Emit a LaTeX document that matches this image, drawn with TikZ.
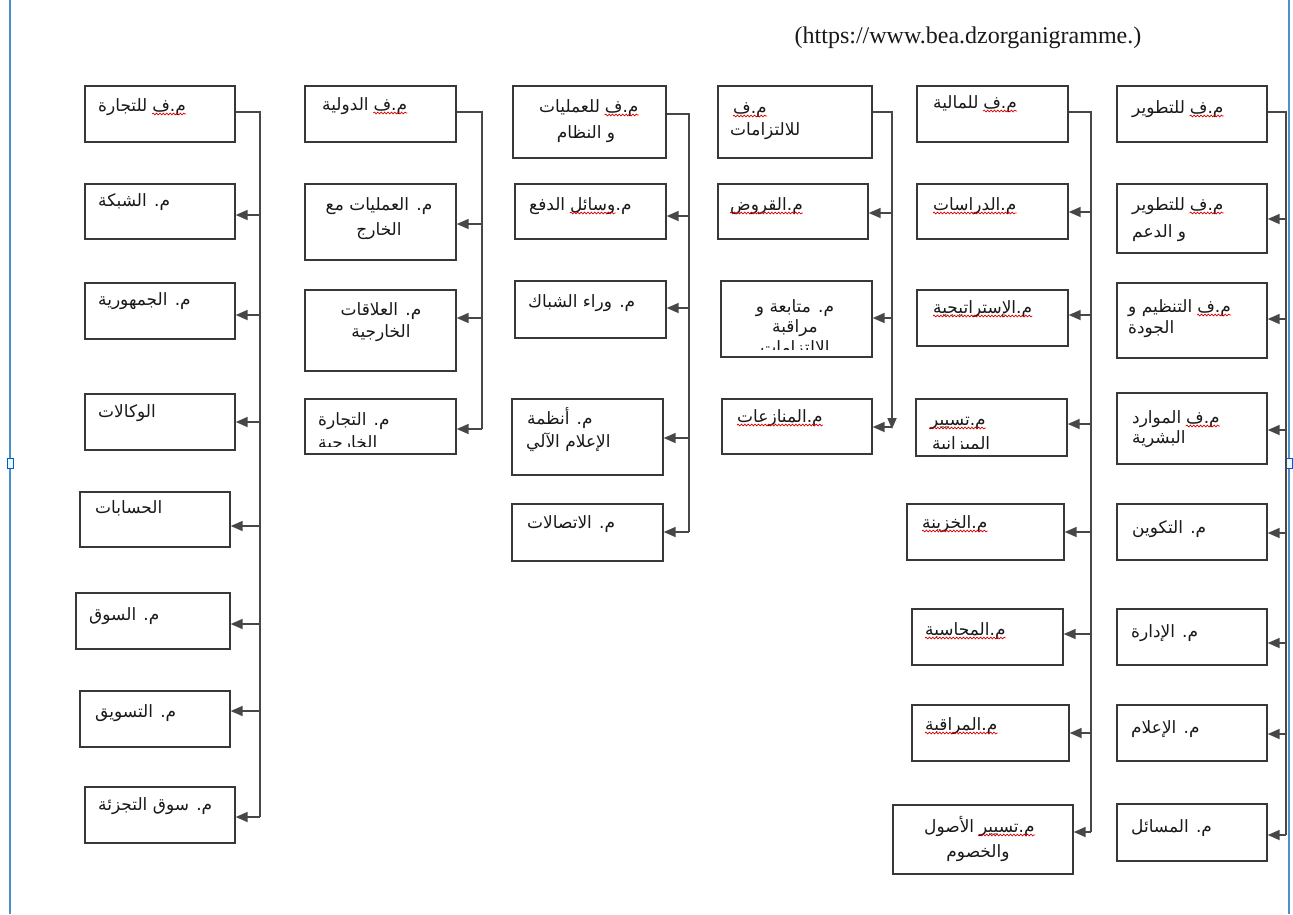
\documentclass[tikz,border=0pt]{standalone}
\usepackage{fontspec}
\setmainfont{Liberation Serif}
\newfontfamily\arabicfont[Script=Arabic]{DejaVu Sans}
\TeXXeTstate=1
\usetikzlibrary{arrows.meta,calc,decorations.pathmorphing}

\tikzset{
  box/.style={draw=black!78, line width=1.7pt, fill=white, inner sep=0pt, anchor=north west},
  conn/.style={draw=black!72, line width=1.7pt},
  arr/.style={conn, -{Triangle[length=12pt,width=10pt]}},
  ar/.style={font=\arabicfont\fontsize{17}{20}\selectfont, inner sep=0pt, text=black!90},
  squig/.style={draw=red!85!black, line width=0.7pt, decorate,
    decoration={snake, amplitude=0.9pt, segment length=3.4pt}},
  pageedge/.style={draw=blue!45!cyan!70!black, line width=1.2pt, opacity=0.7},
  handle/.style={draw=blue!55!cyan!80!black, fill=cyan!10, line width=0.8pt,
    minimum width=6pt, minimum height=10pt, inner sep=0pt},
}

% one line of text, left aligned at x / centred at x (baseline at y)
\newcommand\arleft[4]{\node[ar, anchor=base west] (#1) at (#2,#3) {#4};}
\newcommand\arcentre[4]{\node[ar, anchor=base] (#1) at (#2,#3) {#4};}
% red spell-check wave under a word node
\newcommand\wavy[1]{\draw[squig] ([yshift=-3pt]#1.base west) -- ([yshift=-3pt]#1.base east);}
% line whose leading (rightmost) word is wave-underlined
\newcommand\arlead[5]{\arleft{#1}{#2}{#3}{#4}%
  \node[ar, anchor=base west] (#1-w) at ([xshift=4.5pt]#1.base east) {#5};\wavy{#1-w}}
% single wave-underlined word
\newcommand\arwavy[4]{\arleft{#1}{#2}{#3}{#4}\wavy{#1}}
% arrow from a trunk at x=#2, height #3, into box #1
\newcommand\orgbranch[3]{\coordinate (#1-j) at (#2,#3);\draw[arr] (#1-j) -- (#1.east |- #1-j);}

\begin{document}
\begin{tikzpicture}[x=1pt,y=-1pt]
\useasboundingbox (0,0) rectangle (1293,914);
\fill[white] (0,0) rectangle (1293,914);

% page margins
\draw[pageedge] (10,0) -- (10,914);
\draw[pageedge] (1289,0) -- (1289,914);
\node[handle] (hl) at (10,463) {};
\node[handle] (hr) at (1289,463) {};

\node[font=\fontsize{24}{28}\selectfont, anchor=base, text=black!90] (src) at (968,43)
  {(https://www.bea.dzorganigramme.)};

% ---------------- column 1 ----------------
\node[box, minimum width=150pt, minimum height=56pt] (c1a) at (84,85) {};
\node[box, minimum width=150pt, minimum height=55pt] (c1b) at (84,183) {};
\node[box, minimum width=150pt, minimum height=56pt] (c1c) at (84,282) {};
\node[box, minimum width=150pt, minimum height=56pt] (c1d) at (84,393) {};
\node[box, minimum width=150pt, minimum height=55pt] (c1e) at (79,491) {};
\node[box, minimum width=154pt, minimum height=56pt] (c1f) at (75,592) {};
\node[box, minimum width=150pt, minimum height=56pt] (c1g) at (79,690) {};
\node[box, minimum width=150pt, minimum height=56pt] (c1h) at (84,786) {};
\arlead{c1a-t}{98}{111}{\beginR للتجارة\endR}{\beginR م.ف\endR}
\arleft{c1b-t}{98}{206}{\beginR م. الشبكة\endR}
\arleft{c1c-t}{98}{305}{\beginR م. الجمهورية\endR}
\arleft{c1d-t}{98}{417}{\beginR الوكالات\endR}
\arleft{c1e-t}{95}{513}{\beginR الحسابات\endR}
\arleft{c1f-t}{89}{620}{\beginR م. السوق\endR}
\arleft{c1g-t}{95}{717}{\beginR م. التسويق\endR}
\arleft{c1h-t}{98}{810}{\beginR م. سوق التجزئة\endR}
\coordinate (c1a-s) at (260,112);
\orgbranch{c1b}{260}{215}
\orgbranch{c1c}{260}{315}
\orgbranch{c1d}{260}{422}
\orgbranch{c1e}{260}{526}
\orgbranch{c1f}{260}{624}
\orgbranch{c1g}{260}{711}
\orgbranch{c1h}{260}{817}
\draw[conn] (c1a.east |- c1a-s) -- (c1a-s) -- (c1h-j);

% ---------------- column 2 ----------------
\node[box, minimum width=151pt, minimum height=56pt] (c2a) at (304,85) {};
\node[box, minimum width=151pt, minimum height=76pt] (c2b) at (304,183) {};
\node[box, minimum width=151pt, minimum height=81pt] (c2c) at (304,289) {};
\node[box, minimum width=151pt, minimum height=55pt] (c2d) at (304,398) {};
\arlead{c2a-t}{322}{110}{\beginR الدولية\endR}{\beginR م.ف\endR}
\arcentre{c2b-t1}{379}{210}{\beginR م. العمليات مع\endR}
\arcentre{c2b-t2}{379}{235}{\beginR الخارج\endR}
\arcentre{c2c-t1}{381}{315}{\beginR م. العلاقات\endR}
\arcentre{c2c-t2}{381}{337}{\beginR الخارجية\endR}
\begin{scope}
  \clip (c2d.north west) rectangle ([yshift=8pt]c2d.south east);
  \arleft{c2d-t1}{318}{425}{\beginR م. التجارة\endR}
  \arleft{c2d-t2}{318}{448}{\beginR الخارجية\endR}
\end{scope}
\coordinate (c2a-s) at (482,112);
\orgbranch{c2b}{482}{224}
\orgbranch{c2c}{482}{318}
\orgbranch{c2d}{482}{429}
\draw[conn] (c2a.east |- c2a-s) -- (c2a-s) -- (c2d-j);

% ---------------- column 3 ----------------
\node[box, minimum width=153pt, minimum height=72pt] (c3a) at (512,85) {};
\node[box, minimum width=151pt, minimum height=55pt] (c3b) at (514,183) {};
\node[box, minimum width=151pt, minimum height=57pt] (c3c) at (514,280) {};
\node[box, minimum width=151pt, minimum height=76pt] (c3d) at (511,398) {};
\node[box, minimum width=151pt, minimum height=57pt] (c3e) at (511,503) {};
\arlead{c3a-t1}{539}{112}{\beginR للعمليات\endR}{\beginR م.ف\endR}
\arcentre{c3a-t2}{586}{138}{\beginR و النظام\endR}
\arleft{c3b-t}{529}{210}{\beginR الدفع\endR}
\node[ar, anchor=base west] (c3b-w) at ([xshift=4.5pt]c3b-t.base east) {\beginR وسائل\endR};
\wavy{c3b-w}
\node[ar, anchor=base west] (c3b-m) at (c3b-w.base east) {\beginR م.\endR};
\arleft{c3c-t}{528}{307}{\beginR م. وراء الشباك\endR}
\arleft{c3d-t1}{527}{424}{\beginR م. أنظمة\endR}
\arleft{c3d-t2}{526}{447}{\beginR الإعلام الآلي\endR}
\arleft{c3e-t}{527}{528}{\beginR م. الاتصالات\endR}
\coordinate (c3a-s) at (689,114);
\orgbranch{c3b}{689}{216}
\orgbranch{c3c}{689}{308}
\orgbranch{c3d}{689}{438}
\orgbranch{c3e}{689}{532}
\draw[conn] (c3a.east |- c3a-s) -- (c3a-s) -- (c3e-j);

% ---------------- column 4 ----------------
\node[box, minimum width=154pt, minimum height=72pt] (c4a) at (717,85) {};
\node[box, minimum width=150pt, minimum height=55pt] (c4b) at (717,183) {};
\node[box, minimum width=151pt, minimum height=76pt] (c4c) at (720,280) {};
\node[box, minimum width=150pt, minimum height=55pt] (c4d) at (721,398) {};
\arwavy{c4a-t1}{733}{113}{\beginR م.ف\endR}
\arleft{c4a-t2}{730}{135}{\beginR للالتزامات\endR}
\arwavy{c4b-t}{730}{210}{\beginR م.القروض\endR}
\begin{scope}
  \clip (c4c.north west) rectangle ([yshift=8pt]c4c.south east);
  \arcentre{c4c-t1}{795}{312}{\beginR م. متابعة و\endR}
  \arcentre{c4c-t2}{795}{332}{\beginR مراقبة\endR}
  \arcentre{c4c-t3}{795}{353}{\beginR الالتزامات\endR}
\end{scope}
\arwavy{c4d-t}{737}{422}{\beginR م.المنازعات\endR}
\coordinate (c4a-s) at (892,112);
\coordinate (c4-end) at (892,429);
\orgbranch{c4b}{892}{213}
\orgbranch{c4c}{892}{318}
\orgbranch{c4d}{892}{427}
\draw[conn, -{Triangle[length=11pt,width=9pt]}] (c4a.east |- c4a-s) -- (c4a-s) -- (c4-end);

% ---------------- column 5 ----------------
\node[box, minimum width=151pt, minimum height=56pt] (c5a) at (916,85) {};
\node[box, minimum width=151pt, minimum height=55pt] (c5b) at (916,183) {};
\node[box, minimum width=151pt, minimum height=56pt] (c5c) at (916,289) {};
\node[box, minimum width=151pt, minimum height=57pt] (c5d) at (915,398) {};
\node[box, minimum width=157pt, minimum height=56pt] (c5e) at (906,503) {};
\node[box, minimum width=151pt, minimum height=56pt] (c5f) at (911,608) {};
\node[box, minimum width=157pt, minimum height=56pt] (c5g) at (911,704) {};
\node[box, minimum width=180pt, minimum height=69pt] (c5h) at (892,804) {};
\arlead{c5a-t}{933}{108}{\beginR للمالية\endR}{\beginR م.ف\endR}
\arwavy{c5b-t}{933}{210}{\beginR م.الدراسات\endR}
\arwavy{c5c-t}{933}{313}{\beginR م.الإستراتيجية\endR}
\begin{scope}
  \clip (c5d.north west) rectangle ([yshift=8pt]c5d.south east);
  \arwavy{c5d-t1}{930}{425}{\beginR م.تسيير\endR}
  \arleft{c5d-t2}{932}{449}{\beginR الميزانية\endR}
\end{scope}
\arwavy{c5e-t}{922}{528}{\beginR م.الخزينة\endR}
\arwavy{c5f-t}{925}{635}{\beginR م.المحاسبة\endR}
\arwavy{c5g-t}{925}{730}{\beginR م.المراقبة\endR}
\arlead{c5h-t1}{924}{832}{\beginR الأصول\endR}{\beginR م.تسيير\endR}
\arcentre{c5h-t2}{978}{857}{\beginR والخصوم\endR}
\coordinate (c5a-s) at (1091,112);
\orgbranch{c5b}{1091}{212}
\orgbranch{c5c}{1091}{315}
\orgbranch{c5d}{1091}{424}
\orgbranch{c5e}{1091}{532}
\orgbranch{c5f}{1091}{634}
\orgbranch{c5g}{1091}{733}
\orgbranch{c5h}{1091}{832}
\draw[conn] (c5a.east |- c5a-s) -- (c5a-s) -- (c5h-j);

% ---------------- column 6 ----------------
\node[box, minimum width=150pt, minimum height=56pt] (c6a) at (1116,85) {};
\node[box, minimum width=150pt, minimum height=69pt] (c6b) at (1116,183) {};
\node[box, minimum width=150pt, minimum height=75pt] (c6c) at (1116,282) {};
\node[box, minimum width=150pt, minimum height=71pt] (c6d) at (1116,392) {};
\node[box, minimum width=150pt, minimum height=56pt] (c6e) at (1116,503) {};
\node[box, minimum width=150pt, minimum height=56pt] (c6f) at (1116,608) {};
\node[box, minimum width=150pt, minimum height=56pt] (c6g) at (1116,704) {};
\node[box, minimum width=150pt, minimum height=57pt] (c6h) at (1116,803) {};
\arlead{c6a-t}{1132}{113}{\beginR للتطوير\endR}{\beginR م.ف\endR}
\arlead{c6b-t1}{1132}{210}{\beginR للتطوير\endR}{\beginR م.ف\endR}
\arleft{c6b-t2}{1132}{237}{\beginR و الدعم\endR}
\arlead{c6c-t1}{1128}{312}{\beginR التنظيم و\endR}{\beginR م.ف\endR}
\arleft{c6c-t2}{1128}{333}{\beginR الجودة\endR}
\arlead{c6d-t1}{1132}{423}{\beginR الموارد\endR}{\beginR م.ف\endR}
\arleft{c6d-t2}{1132}{443}{\beginR البشرية\endR}
\arleft{c6e-t}{1132}{533}{\beginR م. التكوين\endR}
\arleft{c6f-t}{1131}{637}{\beginR م. الإدارة\endR}
\arleft{c6g-t}{1131}{733}{\beginR م. الإعلام\endR}
\arleft{c6h-t}{1131}{832}{\beginR م. المسائل\endR}
\coordinate (c6a-s) at (1286,112);
\orgbranch{c6b}{1286}{219}
\orgbranch{c6c}{1286}{319}
\orgbranch{c6d}{1286}{430}
\orgbranch{c6e}{1286}{533}
\orgbranch{c6f}{1286}{643}
\orgbranch{c6g}{1286}{734}
\orgbranch{c6h}{1286}{835}
\draw[conn] (c6a.east |- c6a-s) -- (c6a-s) -- (c6h-j);
\end{tikzpicture}
\end{document}
